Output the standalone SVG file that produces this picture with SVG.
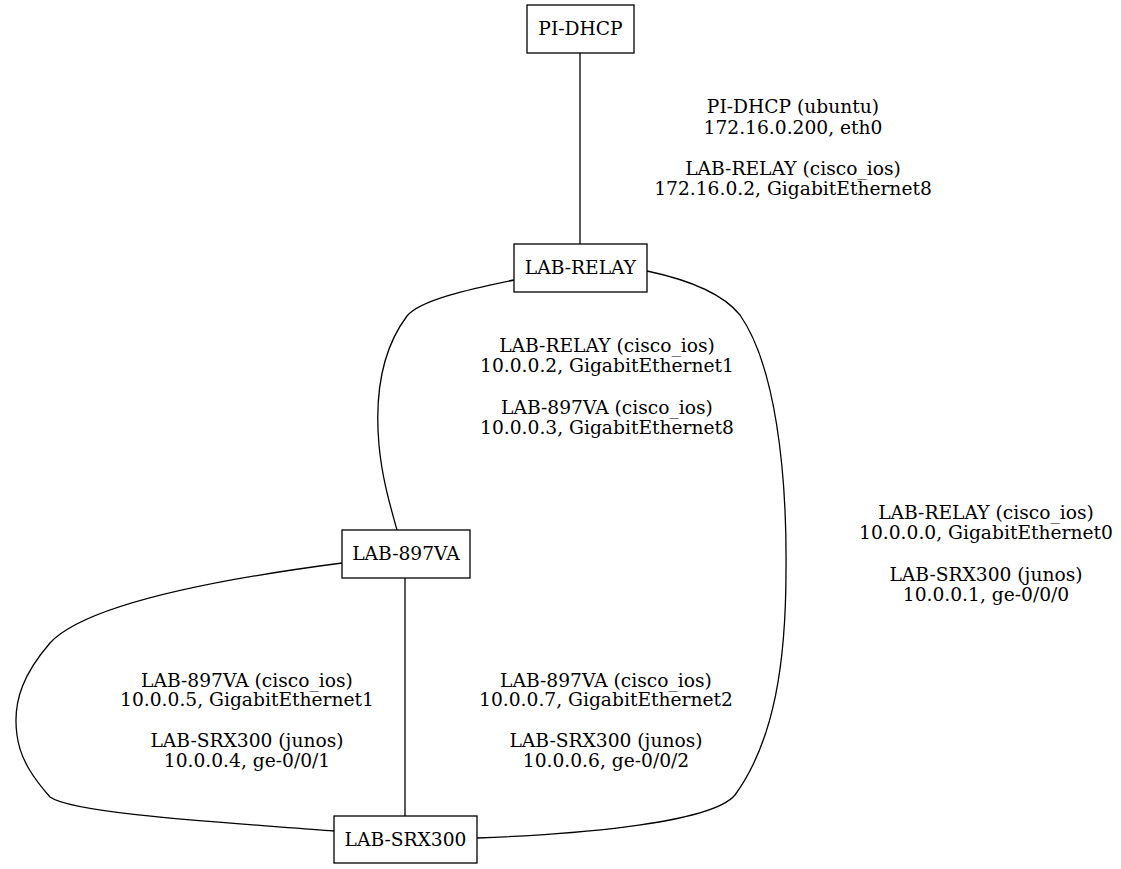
<svg xmlns="http://www.w3.org/2000/svg" width="1121" height="869" viewBox="0 0 1121 869">
<style>
  .node rect { fill: #ffffff; stroke: #000000; stroke-width: 1.3; }
  .node text, .lbl text { font-family: "DejaVu Serif", "Liberation Serif", serif; font-size: 18.67px; fill: #000000; text-anchor: middle; }
  .edges path { fill: none; stroke: #000000; stroke-width: 1.3; }
</style>
<rect x="0" y="0" width="1121" height="869" fill="#ffffff"/>
<g id="connectors" class="edges">
  <path id="e-dhcp-relay" d="M580,53 L580,244"/>
  <path id="e-relay-897" d="M514,280 C470,289 420,300 407,316 C380,352 375,400 379,445 C382,478 390,505 397,530"/>
  <path id="e-relay-srx" d="M647,271 C680,278 720,290 740,315 C775,365 787,470 786,570 C786,660 775,740 735,795 C710,825 560,835 477,838"/>
  <path id="e-897-srx-left" d="M342,563 C250,575 90,600 50,643 C25,672 12,700 17,735 C20,760 35,780 50,797 C75,815 250,824 334,831"/>
  <path id="e-897-srx" d="M405,578 L405,816"/>
</g>
<g id="labels" class="lbl">
  <g id="lbl-dhcp-relay">
    <text x="793" y="113">PI-DHCP (ubuntu)</text>
    <text x="793" y="134">172.16.0.200, eth0</text>
    <text x="793" y="175">LAB-RELAY (cisco_ios)</text>
    <text x="793" y="195">172.16.0.2, GigabitEthernet8</text>
  </g>
  <g id="lbl-relay-897">
    <text x="607" y="352">LAB-RELAY (cisco_ios)</text>
    <text x="607" y="372">10.0.0.2, GigabitEthernet1</text>
    <text x="607" y="414">LAB-897VA (cisco_ios)</text>
    <text x="607" y="434">10.0.0.3, GigabitEthernet8</text>
  </g>
  <g id="lbl-relay-srx">
    <text x="986" y="519">LAB-RELAY (cisco_ios)</text>
    <text x="986" y="539">10.0.0.0, GigabitEthernet0</text>
    <text x="986" y="581">LAB-SRX300 (junos)</text>
    <text x="986" y="601">10.0.0.1, ge-0/0/0</text>
  </g>
  <g id="lbl-897-srx-left">
    <text x="247" y="687">LAB-897VA (cisco_ios)</text>
    <text x="247" y="706">10.0.0.5, GigabitEthernet1</text>
    <text x="247" y="747">LAB-SRX300 (junos)</text>
    <text x="247" y="767">10.0.0.4, ge-0/0/1</text>
  </g>
  <g id="lbl-897-srx">
    <text x="606" y="687">LAB-897VA (cisco_ios)</text>
    <text x="606" y="706">10.0.0.7, GigabitEthernet2</text>
    <text x="606" y="747">LAB-SRX300 (junos)</text>
    <text x="606" y="767">10.0.0.6, ge-0/0/2</text>
  </g>
</g>
<g id="node-pi-dhcp" class="node">
  <rect x="527" y="5" width="107" height="48"/>
  <text x="580.5" y="35">PI-DHCP</text>
</g>
<g id="node-lab-relay" class="node">
  <rect x="514" y="244" width="133" height="48"/>
  <text x="580.5" y="274">LAB-RELAY</text>
</g>
<g id="node-lab-897va" class="node">
  <rect x="342" y="530" width="128" height="48"/>
  <text x="406" y="560">LAB-897VA</text>
</g>
<g id="node-lab-srx300" class="node">
  <rect x="334" y="816" width="143" height="47"/>
  <text x="405.5" y="845.5">LAB-SRX300</text>
</g>
</svg>
